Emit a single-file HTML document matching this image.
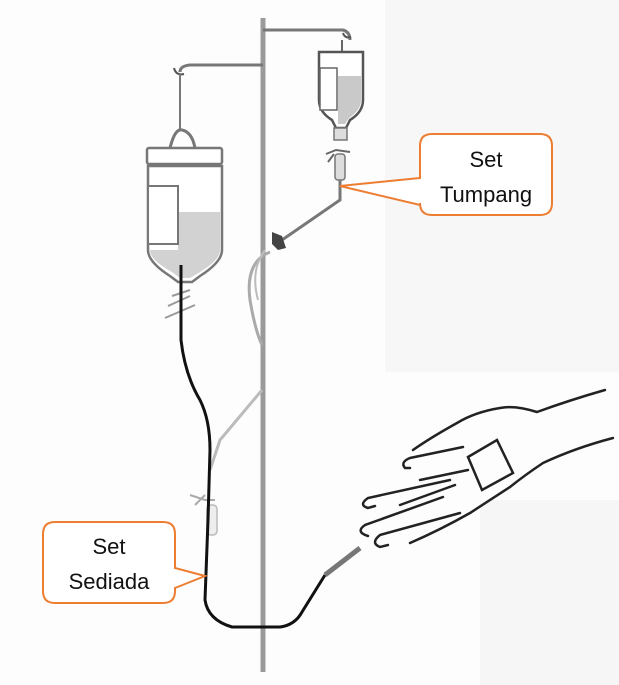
<!DOCTYPE html>
<html><head><meta charset="utf-8"><style>
html,body{margin:0;padding:0;background:#fff;}
svg{display:block;}
text{font-family:"Liberation Sans",sans-serif;font-size:22px;fill:#111;}
</style></head><body>
<svg width="619" height="685" viewBox="0 0 619 685" xmlns="http://www.w3.org/2000/svg">
<rect width="619" height="685" fill="#fdfdfd"/>
<rect x="385" y="0" width="234" height="372" fill="#f7f7f7"/>
<rect x="480" y="500" width="139" height="185" fill="#f6f6f6"/>
<line x1="263" y1="18" x2="263" y2="672" stroke="#9a9a9a" stroke-width="5"/>
<path d="M263 30 H343 Q350 32 350 40" fill="none" stroke="#777" stroke-width="3"/>
<path d="M343 33 q2 6 8 4" fill="none" stroke="#555" stroke-width="2"/>
<line x1="342" y1="40" x2="342" y2="52" stroke="#666" stroke-width="2"/>
<path d="M319 52 H363 V100 Q363 112 350 120 L346 128 H336 L332 120 Q319 112 319 100 Z" fill="#fff" stroke="#555" stroke-width="2.5"/>
<rect x="320" y="68" width="17" height="42" fill="#fff" stroke="#666" stroke-width="1.5"/>
<path d="M338 76 H361 V100 Q361 110 349 118 L345 124 H338 Z" fill="#c9c9c9"/>
<rect x="334" y="128" width="13" height="12" fill="#ddd" stroke="#777" stroke-width="1.5"/>
<path d="M326 154 L336 150 L350 152 M328 162 L334 154" fill="none" stroke="#666" stroke-width="2"/>
<rect x="335" y="154" width="10" height="26" rx="3" fill="#ddd" stroke="#777" stroke-width="1.5"/>
<path d="M340 180 V200 L282 240" fill="none" stroke="#777" stroke-width="3"/>
<path d="M272 232 l10 4 l4 12 l-8 2 l-6 -6 z" fill="#444"/>
<path d="M270 252 Q245 262 250 300 Q255 330 262 345" fill="none" stroke="#aaa" stroke-width="3"/>
<path d="M265 250 Q250 270 258 300" fill="none" stroke="#bbb" stroke-width="2"/>
<path d="M263 65 H190 Q180 66 180 72" fill="none" stroke="#777" stroke-width="3"/>
<path d="M174 68 q2 8 10 6" fill="none" stroke="#555" stroke-width="2"/>
<line x1="180" y1="74" x2="180" y2="130" stroke="#777" stroke-width="2"/>
<path d="M170 148 Q175 128 182 130 Q192 132 195 148" fill="none" stroke="#777" stroke-width="3"/>
<rect x="147" y="148" width="75" height="16" rx="2" fill="#fff" stroke="#777" stroke-width="2.5"/>
<path d="M148 166 H222 V250 Q222 262 200 276 L192 282 H178 L170 276 Q148 262 148 250 Z" fill="#fff" stroke="#777" stroke-width="2.5"/>
<path d="M178 212 H220 V250 Q220 260 200 272 L190 278 H180 L172 272 Q150 260 150 250 H178 Z" fill="#d2d2d2"/>
<rect x="148" y="186" width="30" height="58" fill="#fff" stroke="#777" stroke-width="2"/>
<path d="M172 296 L190 290 M165 318 L195 305 M168 306 L190 296" stroke="#999" stroke-width="2"/>
<path d="M262 390 L220 440 L210 470" fill="none" stroke="#bbb" stroke-width="3"/>
<path d="M190 495 L205 500 L215 500 M195 505 L205 495" fill="none" stroke="#aaa" stroke-width="2"/>
<rect x="207" y="505" width="10" height="30" rx="4" fill="#eee" stroke="#bbb" stroke-width="1.5"/>
<path d="M181 265 V340 Q185 375 200 400 Q210 420 210 450 L208 520 L205 600 Q208 620 232 627 H280 Q295 625 302 612 L325 575" fill="none" stroke="#111" stroke-width="3"/>
<path d="M325 575 L360 548" stroke="#777" stroke-width="5"/>
<g fill="none" stroke="#222" stroke-width="2.5" stroke-linecap="round">
<path d="M605 390 Q570 400 537 412 Q515 405 500 408 Q475 412 457 423 Q430 438 413 450"/>
<path d="M613 438 Q575 448 543 463 Q525 475 510 487 Q490 500 470 513 Q440 530 410 543"/>
<path d="M463 447 L410 458 Q400 462 405 468 L410 468"/>
<path d="M450 480 L368 498 Q358 505 368 508 L375 506"/>
<path d="M443 497 L365 525 Q355 532 368 536"/>
<path d="M460 513 L380 535 Q370 543 380 547 L388 545"/>
<path d="M468 457 L497 440 L513 473 L482 490 Z"/>
<path d="M468 470 L420 480 M455 485 L400 505"/>
</g>
<path d="M432 134 H540 Q552 134 552 146 V203 Q552 215 540 215 H432 Q420 215 420 203 V205 L340 186 L420 178 V146 Q420 134 432 134 Z" fill="#fff" stroke="#ED7D31" stroke-width="2"/>
<text x="486" y="167" text-anchor="middle">Set</text>
<text x="486" y="202" text-anchor="middle">Tumpang</text>
<path d="M55 522 H163 Q175 522 175 534 V568 L205 576 L175 588 V591 Q175 603 163 603 H55 Q43 603 43 591 V534 Q43 522 55 522 Z" fill="#fff" stroke="#ED7D31" stroke-width="2"/>
<text x="109" y="554" text-anchor="middle">Set</text>
<text x="109" y="589" text-anchor="middle">Sediada</text>
</svg>
</body></html>
